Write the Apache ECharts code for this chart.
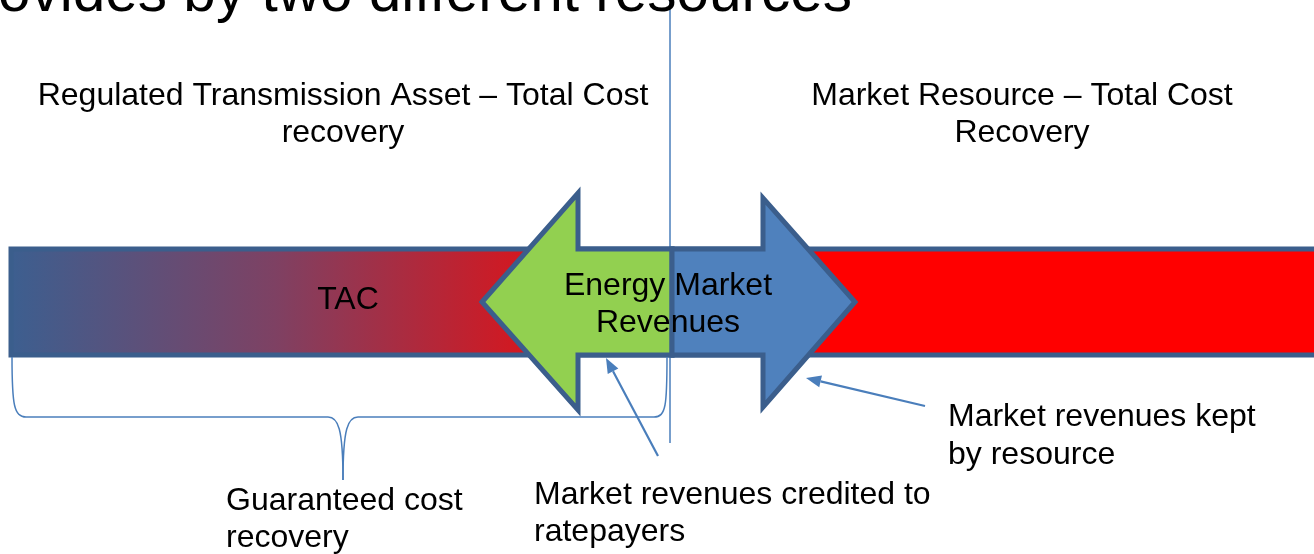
<!DOCTYPE html>
<html>
<head>
<meta charset="utf-8">
<script src="https://cdn.jsdelivr.net/npm/echarts@6/dist/echarts.min.js"></script>
<style>
html, body { margin: 0; padding: 0; background: #fff; }
#main { width: 1314px; height: 554px; }
</style>
</head>
<body>
<div id="main"></div>
<script>
// diagram geometry in picture units (x to the right, y downwards)
var barRects = [[11, 249, 672, 355], [672, 249, 1322, 355]];
var guideLine = [[670, 0], [670, 443]];
var leftArrow = [[482, 302], [578, 193], [578, 249], [672, 249], [672, 355], [578, 355], [578, 410]];
var rightArrow = [[672, 249], [763, 249], [763, 198], [855, 302], [763, 407], [763, 355], [672, 355]];
// curly brace: straight pieces and curves (start, ctrl1, ctrl2, end)
var braceLines = [[[26, 417], [328, 417]], [[358, 417], [654, 417]]];
var braceCurves = [
    [[12, 357], [12, 405], [14, 417], [26, 417]],
    [[328, 417], [338, 417], [343, 428], [343, 480]],
    [[343, 480], [343, 428], [348, 417], [358, 417]],
    [[654, 417], [666, 417], [667, 405], [667, 357]]
];
// callout arrows: from tail to head
var callouts = [[[658, 456], [606, 358]], [[925, 406], [806, 378]]];

// texts
var titleText = 'ovides by two different resources';
var labelTexts = [
    'Regulated Transmission Asset – Total Cost', 'recovery',
    'Market Resource – Total Cost', 'Recovery',
    'TAC', 'Energy Market', 'Revenues',
    'Guaranteed cost', 'recovery',
    'Market revenues credited to', 'ratepayers',
    'Market revenues kept', 'by resource'
];
var labelAnchors = [
    [343, 96], [343, 133],
    [1022, 96], [1022, 133],
    [348, 300], [668, 286], [668, 323],
    [226, 501], [226, 538],
    [534, 495], [534, 532],
    [948, 417], [948, 455]
];
var labelAlign = ['center', 'center', 'center', 'center', 'center', 'center', 'center',
    'left', 'left', 'left', 'left', 'left', 'left'];

var FONT = '"Liberation Sans", Arial, sans-serif';
var OUTLINE = '#3b5e8c';
var LINE = '#4a7ebb';

var chart = echarts.init(document.getElementById('main'));

function pts(api, list) {
    return list.map(function (p) { return api.coord(p); });
}

var option = {
    animation: false,
    grid: { left: 0, right: 0, top: 0, bottom: 0 },
    xAxis: { type: 'value', min: 0, max: 1314, show: false },
    yAxis: { type: 'value', min: 0, max: 554, inverse: true, show: false },
    series: [
        {
            // the two cost bars
            type: 'custom',
            clip: false,
            data: barRects.map(function (r) { return [r[0], r[1]]; }),
            renderItem: function (params, api) {
                var r = barRects[params.dataIndex];
                var a = api.coord([r[0], r[1]]);
                var b = api.coord([r[2], r[3]]);
                var fill = params.dataIndex === 0
                    ? new echarts.graphic.LinearGradient(0, 0, 1, 0, [
                        { offset: 0, color: '#3c5f90' },
                        { offset: 0.4, color: '#7e4163' },
                        { offset: 0.78, color: '#d5171f' },
                        { offset: 1, color: '#e0131c' }
                    ])
                    : '#ff0000';
                return {
                    type: 'rect',
                    shape: { x: a[0], y: a[1], width: b[0] - a[0], height: b[1] - a[1] },
                    style: { fill: fill, stroke: OUTLINE, lineWidth: 5 }
                };
            }
        },
        {
            // vertical divider
            type: 'custom',
            clip: false,
            data: [guideLine[0]],
            renderItem: function (params, api) {
                var p = pts(api, guideLine);
                return {
                    type: 'line',
                    shape: { x1: p[0][0], y1: p[0][1], x2: p[1][0], y2: p[1][1] },
                    style: { stroke: LINE, lineWidth: 1.5 }
                };
            }
        },
        {
            // the two arrows
            type: 'custom',
            clip: false,
            data: [leftArrow[0], rightArrow[0]],
            renderItem: function (params, api) {
                var shape = params.dataIndex === 0 ? leftArrow : rightArrow;
                return {
                    type: 'polygon',
                    shape: { points: pts(api, shape) },
                    style: {
                        fill: params.dataIndex === 0 ? '#92d050' : '#4f81bd',
                        stroke: OUTLINE,
                        lineWidth: 5,
                        lineJoin: 'miter'
                    }
                };
            }
        },
        {
            // curly brace under the regulated part
            type: 'custom',
            clip: false,
            data: [braceCurves[0][0]],
            renderItem: function (params, api) {
                var kids = [];
                braceLines.forEach(function (l) {
                    var p = pts(api, l);
                    kids.push({
                        type: 'line',
                        shape: { x1: p[0][0], y1: p[0][1], x2: p[1][0], y2: p[1][1] },
                        style: { stroke: LINE, lineWidth: 1.5 }
                    });
                });
                braceCurves.forEach(function (c) {
                    var p = pts(api, c);
                    kids.push({
                        type: 'bezierCurve',
                        shape: {
                            x1: p[0][0], y1: p[0][1],
                            cpx1: p[1][0], cpy1: p[1][1],
                            cpx2: p[2][0], cpy2: p[2][1],
                            x2: p[3][0], y2: p[3][1]
                        },
                        style: { stroke: LINE, lineWidth: 1.5, fill: null }
                    });
                });
                return { type: 'group', children: kids };
            }
        },
        {
            // callout arrows
            type: 'custom',
            clip: false,
            data: callouts.map(function (c) { return c[0]; }),
            renderItem: function (params, api) {
                var p = pts(api, callouts[params.dataIndex]);
                var dx = p[1][0] - p[0][0], dy = p[1][1] - p[0][1];
                var len = Math.sqrt(dx * dx + dy * dy);
                var ux = dx / len, uy = dy / len;
                var hl = 15, hw = 6;
                var bx = p[1][0] - ux * hl, by = p[1][1] - uy * hl;
                return {
                    type: 'group',
                    children: [
                        {
                            type: 'line',
                            shape: { x1: p[0][0], y1: p[0][1], x2: bx, y2: by },
                            style: { stroke: LINE, lineWidth: 2.2 }
                        },
                        {
                            type: 'polygon',
                            shape: { points: [p[1], [bx - uy * hw, by + ux * hw], [bx + uy * hw, by - ux * hw]] },
                            style: { fill: LINE }
                        }
                    ]
                };
            }
        },
        {
            // texts
            type: 'custom',
            clip: false,
            data: labelAnchors,
            renderItem: function (params, api) {
                var i = params.dataIndex;
                var p = api.coord(labelAnchors[i]);
                return {
                    type: 'text',
                    style: {
                        x: p[0], y: p[1],
                        text: labelTexts[i],
                        font: '32px ' + FONT,
                        fill: '#000',
                        align: labelAlign[i],
                        verticalAlign: 'middle'
                    }
                };
            }
        },
        {
            // cut off slide title
            type: 'custom',
            clip: false,
            data: [[0, 0]],
            renderItem: function (params, api) {
                var p = api.coord([-2, -5]);
                return {
                    type: 'text',
                    style: {
                        x: p[0], y: p[1],
                        text: titleText,
                        font: '58.5px ' + FONT,
                        fill: '#000',
                        align: 'left',
                        verticalAlign: 'middle'
                    }
                };
            }
        }
    ]
};

chart.setOption(option);
</script>
</body>
</html>
